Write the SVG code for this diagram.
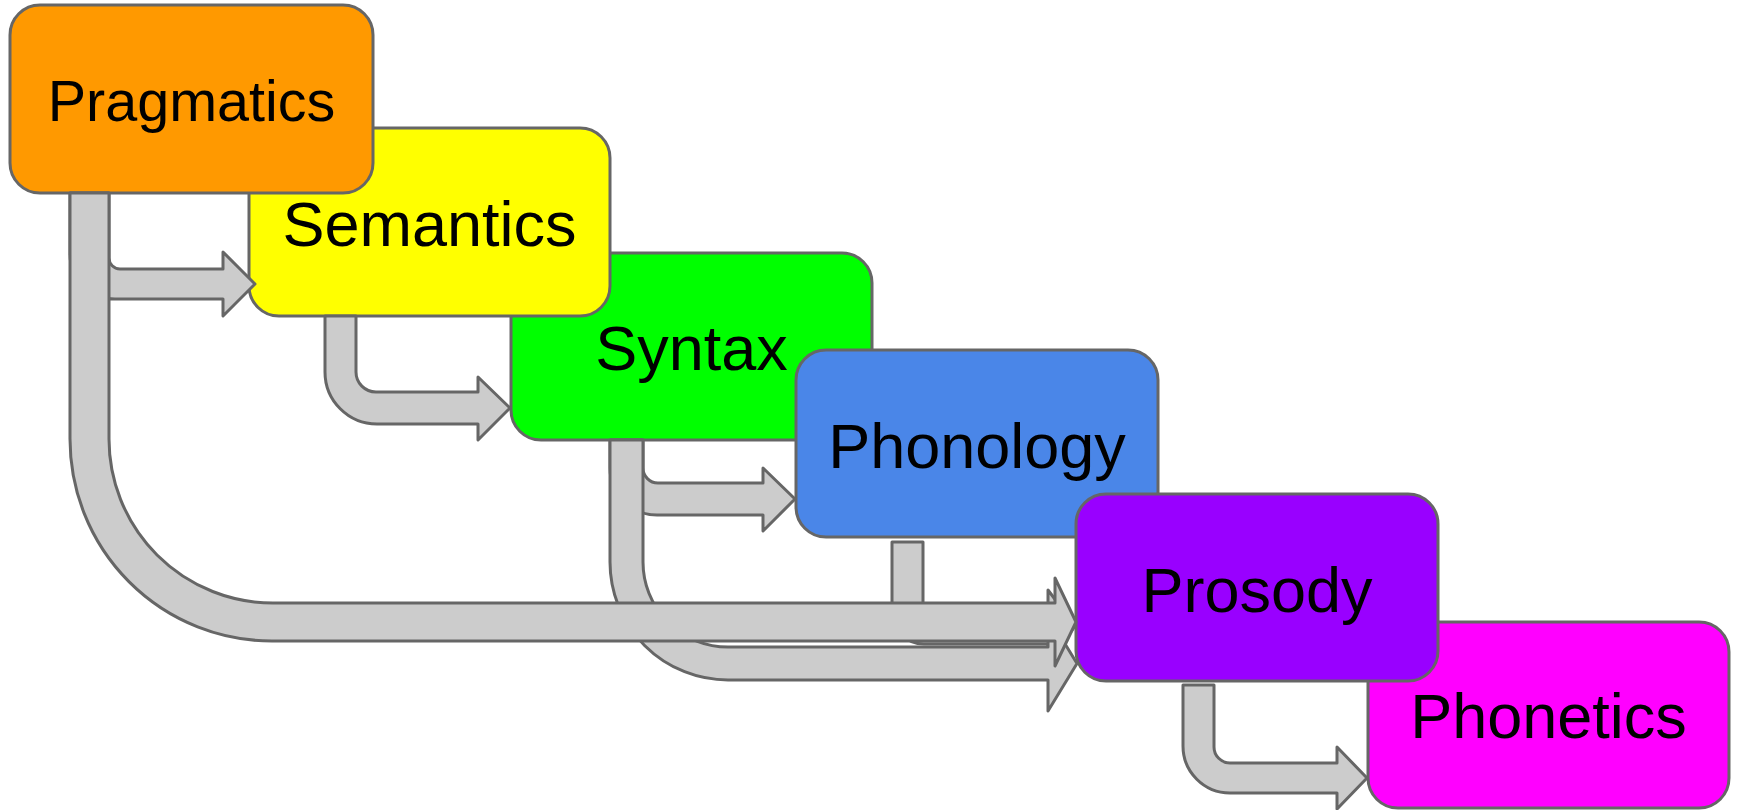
<svg xmlns="http://www.w3.org/2000/svg" width="1738" height="810" viewBox="0 0 1738 810">
<style>
.box{stroke:#666666;stroke-width:3}
.lbl{font-family:"Liberation Sans",Arial,sans-serif;font-size:63px;fill:#000000;text-anchor:middle}
.arr{fill:#cccccc;stroke:#666666;stroke-width:3;stroke-linejoin:round}
</style>
<rect width="1738" height="810" fill="#ffffff"/>
<g id="syntax"><rect class="box" x="511" y="253" width="361" height="187" rx="30" fill="#00ff00"/><text class="lbl" x="691.5" y="370">Syntax</text></g>
<g id="semantics"><rect class="box" x="249" y="128" width="361" height="188" rx="30" fill="#ffff00"/><text class="lbl" x="429.5" y="245.5">Semantics</text></g>
<g id="pragmatics"><rect class="box" x="10" y="5" width="363" height="188" rx="30" fill="#ff9900"/><text class="lbl" x="191.5" y="121" style="font-size:57.5px">Pragmatics</text></g>
<g id="phonology"><rect class="box" x="796" y="350" width="362" height="187" rx="30" fill="#4a86e8"/><text class="lbl" x="977" y="467.5">Phonology</text></g>
<g id="phonetics"><rect class="box" x="1368" y="622" width="361" height="186" rx="30" fill="#ff00ff"/><text class="lbl" x="1548.5" y="738">Phonetics</text></g>
<g id="prosody"><rect class="box" x="1076" y="494" width="362" height="187" rx="30" fill="#9900ff"/><text class="lbl" x="1257" y="611.5">Prosody</text></g>
<g id="connectors">
<path class="arr" d="M892,542 L923,542 L923,606 A2,2 0 0 0 925,608 L1048,608 L1048,590 L1075,626 L1048,662 L1048,644 L924,644 A32,32 0 0 1 892,612 Z"/>
<path class="arr" d="M610,440 L643,440 L643,468 A15,15 0 0 0 658,483 L763,483 L763,468 L795,499 L763,531 L763,515 L657,515 A47,47 0 0 1 610,468 Z"/>
<path class="arr" d="M610,440 L643,440 L643,562 A85,85 0 0 0 728,647 L1048,647 L1048,616 L1077,663.5 L1048,711 L1048,680 L728,680 A118,118 0 0 1 610,562 Z"/>
<path class="arr" d="M70,193 L109,193 L109,258 A11,11 0 0 0 120,269 L223,269 L223,252 L255,284 L223,316 L223,299 L115,299 A45,45 0 0 1 70,254 Z"/>
<path class="arr" d="M70,193 L109,193 L109,439 A164,164 0 0 0 273,603 L1055,603 L1055,578 L1076,622 L1055,666 L1055,641 L272,641 A202,202 0 0 1 70,439 Z"/>
<path class="arr" d="M325,316 L356,316 L356,372 A20,20 0 0 0 376,392 L478,392 L478,377 L510,408 L478,440 L478,424 L377,424 A52,52 0 0 1 325,372 Z"/>
<path class="arr" d="M1183,685 L1214,685 L1214,747 A16,16 0 0 0 1230,763 L1337,763 L1337,747 L1367,778 L1337,809 L1337,793 L1230,793 A47,47 0 0 1 1183,746 Z"/>
</g>
</svg>
